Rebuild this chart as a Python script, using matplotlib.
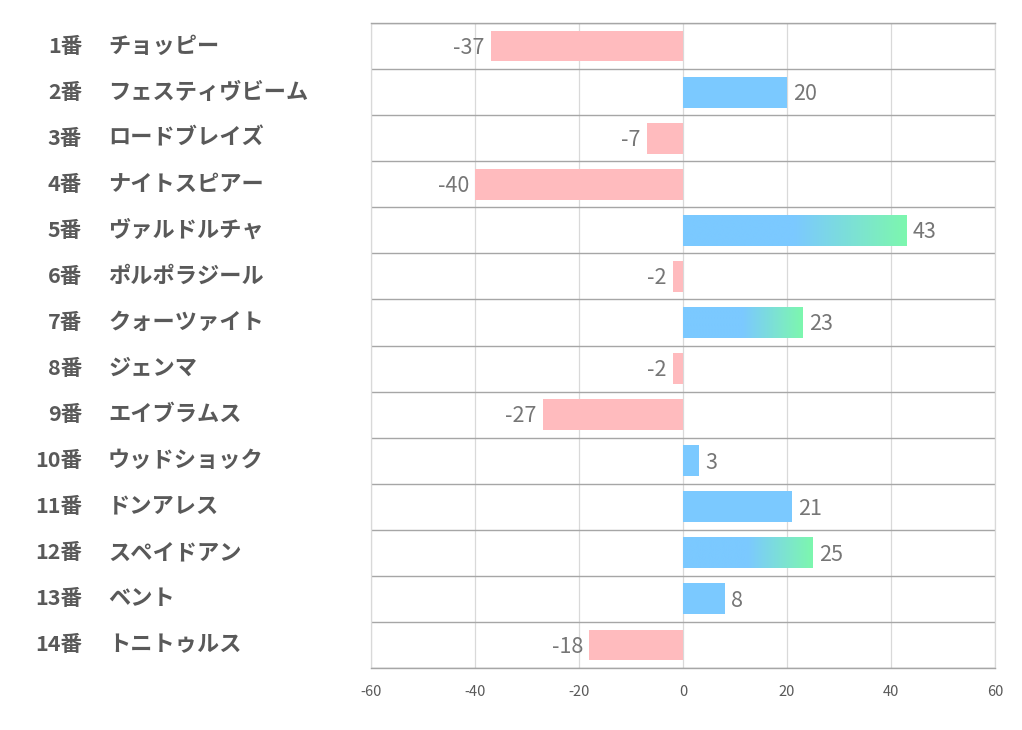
import numpy as np
import matplotlib
matplotlib.use("Agg")
import matplotlib.pyplot as plt
from matplotlib.transforms import blended_transform_factory
from matplotlib.colors import to_rgb

plt.rcParams['font.family'] = ['Noto Sans CJK JP', 'DejaVu Sans']

numbers = ["1番", "2番", "3番", "4番", "5番", "6番", "7番", "8番", "9番", "10番", "11番", "12番", "13番", "14番"]
names = ["チョッピー", "フェスティヴビーム", "ロードブレイズ", "ナイトスピアー", "ヴァルドルチャ", "ポルポラジール",
         "クォーツァイト", "ジェンマ", "エイブラムス", "ウッドショック", "ドンアレス", "スペイドアン", "ベント", "トニトゥルス"]
values = [-37, 20, -7, -40, 43, -2, 23, -2, -27, 3, 21, 25, 8, -18]
highlight = [False, False, False, False, True, False, True, False, False, False, False, True, False, False]
xticks = [-60, -40, -20, 0, 20, 40, 60]

NEG = "#FFBBBE"
POS = "#7BC9FF"
GREEN = "#7DF7AE"

fig = plt.figure(figsize=(10.22, 7.3), dpi=100)
ax = fig.add_axes([371/1022, 1-668/730, (995-371)/1022, (668-23)/730])

h = 0.67
ys = np.arange(len(values))
for y, v, hl in zip(ys, values, highlight):
    col = NEG if v < 0 else POS
    bars = ax.barh(y, v, height=h, color=col, zorder=3)
    if hl:
        patch = bars[0]
        n = 200
        t = np.linspace(0, 1, n)
        frac = np.clip((t - 0.5) / 0.5, 0, 1)
        c0 = np.array(to_rgb(POS)); c1 = np.array(to_rgb(GREEN))
        grad = (c0[None, :] * (1 - frac[:, None]) + c1[None, :] * frac[:, None])[None, :, :]
        im = ax.imshow(grad, extent=[0, v, y + h/2, y - h/2], aspect='auto', zorder=4, interpolation='bilinear')
        im.set_clip_path(patch)
    if v < 0:
        ax.text(v - 1.2, y + 0.04, f"{v}", ha='right', va='center', fontsize=15.5, color='#767676', zorder=5)
    else:
        ax.text(v + 1.2, y + 0.04, f"{v}", ha='left', va='center', fontsize=15.5, color='#767676', zorder=5)

ax.set_xlim(-60, 60)
ax.set_ylim(len(values) - 0.5, -0.5)
ax.set_xticks(xticks)
ax.set_xticklabels([str(t) for t in xticks])
ax.set_yticks([])
ax.set_yticks(np.arange(-0.5, len(values), 1), minor=True)
ax.tick_params(axis='y', which='both', length=0, labelleft=False)
ax.tick_params(axis='x', length=0, pad=12, labelsize=10.5, labelcolor='#595959')
ax.grid(axis='x', which='major', color='#D9D9D9', linewidth=0.9, zorder=0)
ax.grid(axis='y', which='minor', color='#A6A6A6', linewidth=1.0, zorder=1)
ax.set_axisbelow(True)
for s in ['left', 'right']:
    ax.spines[s].set_color('#D9D9D9')
    ax.spines[s].set_linewidth(0.9)
for s in ['top', 'bottom']:
    ax.spines[s].set_color('#A6A6A6')
    ax.spines[s].set_linewidth(1.0)

tr = blended_transform_factory(fig.transFigure, ax.transData)
for y, num, nm in zip(ys, numbers, names):
    ax.text(82/1022, y, num, transform=tr, ha='right', va='center', fontsize=15.5,
            fontweight='bold', color='#595959')
    ax.text(108/1022, y, nm, transform=tr, ha='left', va='center', fontsize=16,
            fontweight='bold', color='#595959')

fig.savefig("out.png", dpi=100)
